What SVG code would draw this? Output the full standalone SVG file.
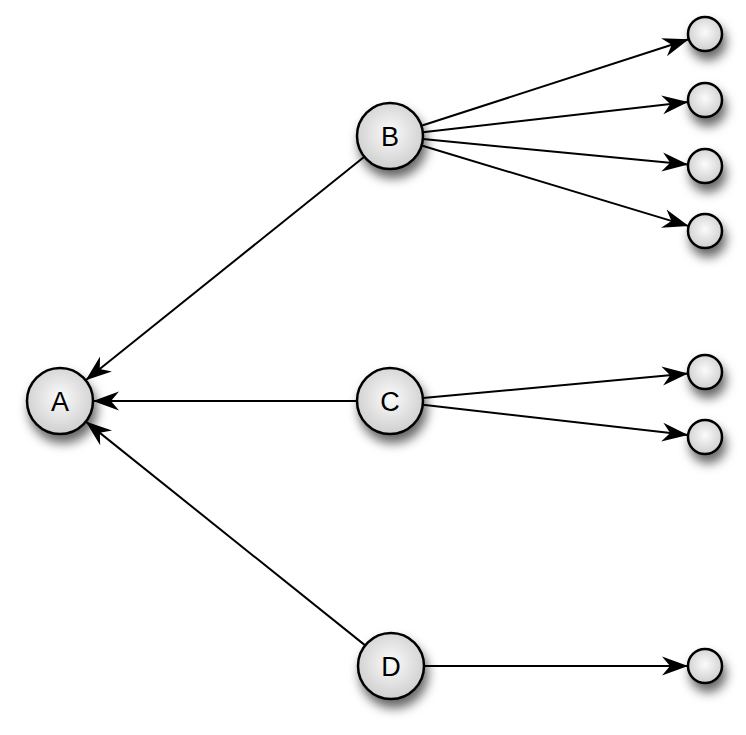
<svg xmlns="http://www.w3.org/2000/svg" width="746" height="735" viewBox="0 0 746 735">
<defs>
<radialGradient id="g" cx="0.5" cy="0.45" r="0.55">
<stop offset="0" stop-color="#fbfbfb"/>
<stop offset="1" stop-color="#cfcfcf"/>
</radialGradient>
<filter id="sh" x="-60%" y="-60%" width="220%" height="220%">
<feDropShadow dx="3" dy="8" stdDeviation="5.5" flood-color="#000" flood-opacity="0.6"/>
</filter>
<marker id="ar" markerUnits="userSpaceOnUse" markerWidth="30" markerHeight="24" viewBox="-27 -12 30 24" refX="0" refY="0" orient="auto">
<path d="M0,0 L-26,-9.5 L-18,0 L-26,9.5 Z" fill="#000"/>
</marker>
<style>
.n{fill:url(#g);stroke:#000;stroke-width:2.5;filter:url(#sh)}
.e{stroke:#000;stroke-width:2;fill:none;marker-end:url(#ar)}
.t{font-family:"Liberation Sans",Arial,sans-serif;font-size:27px;fill:#000;text-anchor:middle;dominant-baseline:central}
</style>
</defs>
<g id="connectors">
<line class="e" x1="364.3" y1="156.7" x2="85.7" y2="380.3"/>
<line class="e" x1="357" y1="401" x2="93" y2="401"/>
<line class="e" x1="365.2" y1="645.4" x2="85.8" y2="421.6"/>
<line class="e" x1="421.4" y1="125.8" x2="688.8" y2="39.2"/>
<line class="e" x1="422.8" y1="132.3" x2="688.1" y2="101.9"/>
<line class="e" x1="422.9" y1="139.1" x2="688.1" y2="164.4"/>
<line class="e" x1="421.6" y1="145.5" x2="688.7" y2="226.1"/>
<line class="e" x1="422.9" y1="398" x2="688.1" y2="373.6"/>
<line class="e" x1="422.8" y1="404.7" x2="688.1" y2="435.1"/>
<line class="e" x1="424" y1="666" x2="688" y2="666"/>
</g>
<g id="A"><circle class="n" cx="60" cy="401" r="33"/><text class="t" x="60" y="402">A</text></g>
<g id="B"><circle class="n" cx="390" cy="136" r="33"/><text class="t" x="390" y="137">B</text></g>
<g id="C"><circle class="n" cx="390" cy="401" r="33"/><text class="t" x="390" y="402">C</text></g>
<g id="D"><circle class="n" cx="391" cy="666" r="33"/><text class="t" x="391" y="667">D</text></g>
<g id="s1"><circle class="n" cx="705" cy="34" r="17"/></g>
<g id="s2"><circle class="n" cx="705" cy="100" r="17"/></g>
<g id="s3"><circle class="n" cx="705" cy="166" r="17"/></g>
<g id="s4"><circle class="n" cx="705" cy="231" r="17"/></g>
<g id="s5"><circle class="n" cx="705" cy="372" r="17"/></g>
<g id="s6"><circle class="n" cx="705" cy="437" r="17"/></g>
<g id="s7"><circle class="n" cx="705" cy="666" r="17"/></g>
</svg>
